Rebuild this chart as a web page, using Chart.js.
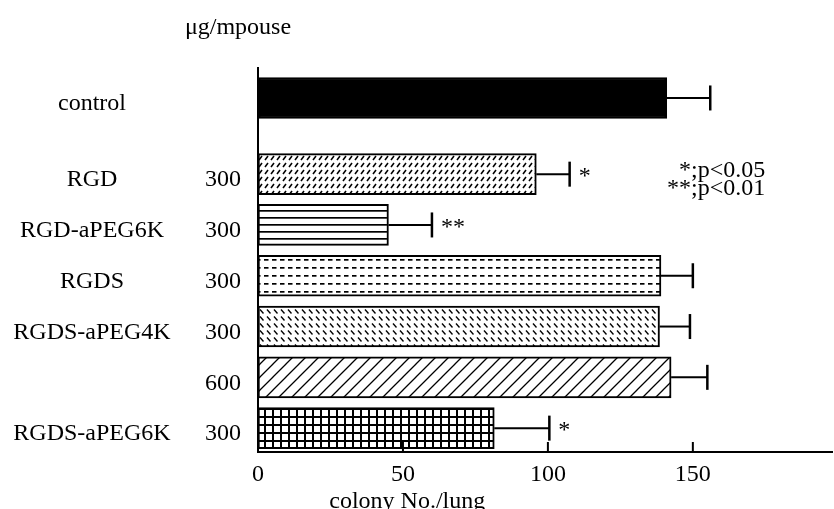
<!DOCTYPE html>
<html>
<head>
<meta charset="utf-8">
<script src="https://cdn.jsdelivr.net/npm/chart.js@4.4.0/dist/chart.umd.min.js"></script>
<style>
html, body { margin: 0; padding: 0; background: #fff; }
#wrap { width: 834px; height: 509px; position: relative; }
</style>
</head>
<body>
<div id="wrap"><canvas id="colony-chart"></canvas></div>
<script>
// groups, doses (ug/mouse) and colony counts
var groups = ["control", "RGD", "RGD-aPEG6K", "RGDS", "RGDS-aPEG4K", "", "RGDS-aPEG6K"];
var doses = ["", "300", "300", "300", "300", "600", "300"];
var colonyMean = [141, 96, 45, 139, 138.5, 142.5, 81.5];
var colonyErr = [15, 11.5, 15, 11, 10.5, 12.5, 19];
var signif = ["", "*", "**", "", "", "", "*"];
var xTicks = [0, 50, 100, 150];
var sigNotes = ["*;p<0.05", "**;p<0.01"];

var FONT = "Liberation Serif";

// control sits apart from the treated groups
function rowOf(i) { return i === 0 ? 0 : i + 0.5; }

//hatch fills
function makePattern(w, h, draw) {
    var c = document.createElement("canvas");
    c.width = w; c.height = h;
    var g = c.getContext("2d");
    g.fillStyle = "#fff";
    g.fillRect(0, 0, w, h);
    g.fillStyle = "#000";
    g.strokeStyle = "#000";
    draw(g, w, h);
    return g.createPattern(c, "repeat");
}

var fills = [
    "#000",
    makePattern(6, 7, function(g){ g.lineWidth = 1.5; g.beginPath(); g.moveTo(1, 6); g.lineTo(4, 2); g.stroke(); }),
    makePattern(8, 7, function(g){ g.fillRect(0, 0, 8, 1.7); }),
    makePattern(8, 8, function(g){ g.fillRect(0, 3, 4.5, 1.7); }),
    makePattern(7, 7, function(g){ g.lineWidth = 1.4; g.beginPath(); g.moveTo(1, 1.5); g.lineTo(4.5, 5.5); g.stroke(); }),
    makePattern(13, 13, function(g){
        g.lineWidth = 1.3; g.beginPath();
        g.moveTo(-1, 14); g.lineTo(14, -1);
        g.moveTo(-1, 1); g.lineTo(1, -1);
        g.moveTo(12, 14); g.lineTo(14, 12);
        g.stroke();
    }),
    makePattern(8, 8, function(g){ g.fillRect(0, 0, 8, 8); g.fillStyle = "#fff"; g.fillRect(2, 2, 6, 6); })
];

var annotate = {
    id: "annotate",
    afterDatasetsDraw: function(chart) {
        var ctx = chart.ctx;
        var xs = chart.scales.x, ys = chart.scales.y;
        var area = chart.chartArea;
        var meta = chart.getDatasetMeta(0);
        ctx.save();
        ctx.strokeStyle = "#000";
        ctx.fillStyle = "#000";

        // error bars + stars
        meta.data.forEach(function(bar, i) {
            var x0 = xs.getPixelForValue(colonyMean[i]);
            var x1 = xs.getPixelForValue(colonyMean[i] + colonyErr[i]);
            ctx.lineWidth = 2;
            ctx.beginPath();
            ctx.moveTo(x0, bar.y); ctx.lineTo(x1, bar.y);
            ctx.stroke();
            ctx.lineWidth = 2.5;
            ctx.beginPath();
            ctx.moveTo(x1, bar.y - 12.5); ctx.lineTo(x1, bar.y + 12.5);
            ctx.stroke();
            if (signif[i]) {
                ctx.font = "24px " + FONT;
                ctx.textAlign = "left";
                ctx.textBaseline = "middle";
                ctx.fillText(signif[i], x1 + 9, bar.y + 3);
            }
        });

        // ticks pointing inward
        ctx.lineWidth = 2;
        xTicks.forEach(function(v) {
            if (v === 0) return;
            var px = xs.getPixelForValue(v);
            ctx.beginPath();
            ctx.moveTo(px, area.bottom); ctx.lineTo(px, area.bottom - 10);
            ctx.stroke();
        });

        // group names and doses
        ctx.font = "24px " + FONT;
        ctx.textBaseline = "middle";
        groups.forEach(function(name, i) {
            var py = ys.getPixelForValue(rowOf(i)) + 6;
            ctx.textAlign = "center";
            ctx.fillText(name, 92, py);
            ctx.textAlign = "right";
            ctx.fillText(doses[i], 241, py);
        });

        ctx.textAlign = "center";
        ctx.fillText("\u03bcg/mpouse", 238, 28);
        ctx.fillText("colony No./lung", xs.getPixelForValue(51.5), 502);

        ctx.textAlign = "right";
        sigNotes.forEach(function(t, k) {
            ctx.fillText(t, xs.getPixelForValue(175), 171 + k * 18);
        });
        ctx.restore();
    }
};

var ctx = document.getElementById("colony-chart");

var chart = new Chart(ctx, {
    type: "bar",
    data: {
        datasets: [{
            data: colonyMean.map(function(v, i){ return { x: v, y: rowOf(i) }; }),
            backgroundColor: fills,
            borderColor: "#000",
            borderWidth: 2,
            borderSkipped: false,
            barThickness: 41
        }]
    },
    options: {
        indexAxis: "y",
        responsive: true,
        maintainAspectRatio: false,
        animation: false,
        layout: { padding: { left: 258, top: 68, right: 2, bottom: 0 } },
        plugins: {
            legend: { display: false },
            tooltip: { enabled: false }
        },
        scales: {
            x: {
                type: "linear",
                min: 0,
                max: 198,
                afterBuildTicks: function(s){ s.ticks = xTicks.map(function(v){ return { value: v }; }); },
                afterFit: function(s){ s.height = 57; },
                grid: { display: false, drawTicks: false },
                border: { display: true, color: "#000", width: 2 },
                ticks: { font: { family: FONT, size: 24 }, color: "#000", padding: 8, maxRotation: 0 }
            },
            y: {
                type: "linear",
                reverse: true,
                offset: false,
                min: -0.59,
                max: 6.97,
                afterFit: function(s){ s.width = 0; },
                grid: { display: false, drawTicks: false },
                border: { display: true, color: "#000", width: 2 },
                ticks: { display: false }
            }
        }
    },
    plugins: [annotate]
});
</script>
</body>
</html>
